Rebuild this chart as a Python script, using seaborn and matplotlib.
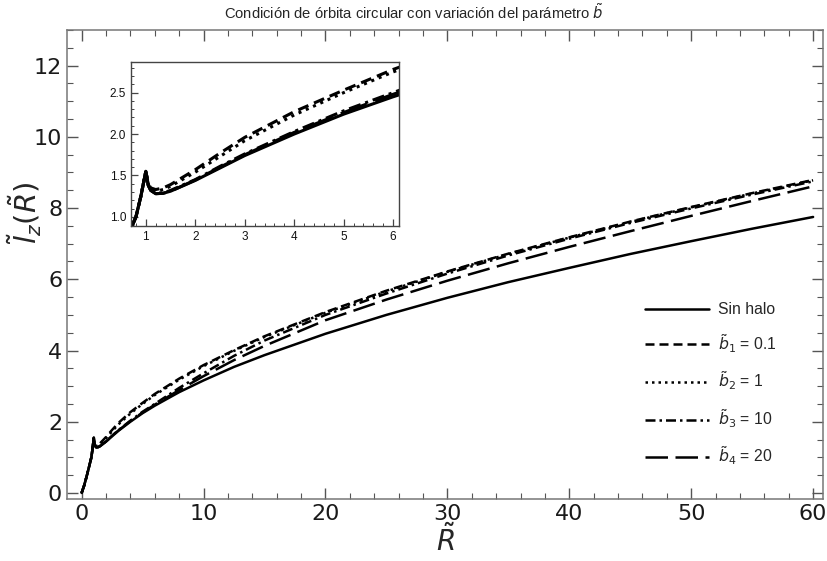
import numpy as np
import pandas as pd
import matplotlib
matplotlib.use("Agg")
import matplotlib.pyplot as plt
import seaborn as sns
from matplotlib.ticker import MultipleLocator

# ---- data ----
R = [0, 0.2, 0.4, 0.6, 0.8, 0.9, 1.0, 1.05, 1.1, 1.2, 1.35, 1.5, 2, 2.5, 3, 4, 5, 6,
     8, 10, 12.5, 15, 20, 25, 30, 35, 40, 45, 50, 55, 60]

sin_halo = [0, 0.2, 0.45, 0.72, 1.0, 1.25, 1.55, 1.38, 1.32, 1.28, 1.285, 1.31, 1.44, 1.59,
            1.74, 2.0, 2.24, 2.45, 2.83, 3.16, 3.54, 3.87, 4.47, 5.0, 5.48, 5.92, 6.32,
            6.71, 7.07, 7.42, 7.75]
b1 = [0, 0.2, 0.45, 0.72, 1.0, 1.25, 1.55, 1.40, 1.35, 1.33, 1.35, 1.39, 1.57, 1.77, 1.96,
      2.27, 2.53, 2.78, 3.21, 3.59, 4.01, 4.40, 5.08, 5.68, 6.22, 6.72, 7.18, 7.62, 8.03,
      8.42, 8.79]
b2 = [0, 0.2, 0.45, 0.72, 1.0, 1.25, 1.55, 1.39, 1.34, 1.31, 1.33, 1.37, 1.54, 1.73, 1.92,
      2.23, 2.50, 2.75, 3.18, 3.56, 3.99, 4.38, 5.06, 5.66, 6.21, 6.71, 7.17, 7.61, 8.02,
      8.41, 8.78]
b3 = [0, 0.2, 0.45, 0.72, 1.0, 1.25, 1.55, 1.38, 1.32, 1.285, 1.29, 1.32, 1.45, 1.61, 1.76,
      2.03, 2.28, 2.50, 2.95, 3.36, 3.85, 4.28, 5.00, 5.60, 6.16, 6.67, 7.14, 7.58, 7.99,
      8.38, 8.75]
b4 = [0, 0.2, 0.45, 0.72, 1.0, 1.25, 1.55, 1.38, 1.32, 1.28, 1.285, 1.31, 1.445, 1.60, 1.75,
      2.02, 2.26, 2.48, 2.89, 3.28, 3.73, 4.13, 4.85, 5.43, 5.96, 6.45, 6.91, 7.35, 7.78,
      8.20, 8.61]

labels = ["Sin halo", r"$\tilde{b}_1$ = 0.1", r"$\tilde{b}_2$ = 1",
          r"$\tilde{b}_3$ = 10", r"$\tilde{b}_4$ = 20"]
series = [sin_halo, b1, b2, b3, b4]

title = r"Condición de órbita circular con variación del parámetro $\tilde{b}$"
xlabel = r"$\tilde{R}$"
ylabel = r"$\tilde{l}_z(\tilde{R})$"

styles = ["-", (0, (3.6, 2.0)), (0, (1, 1.6)), (0, (4, 1.6, 1, 1.6)), (0, (9, 3))]

sns.set_theme(style="ticks")
plt.rcParams["font.family"] = ["DejaVu Sans"]

fig = plt.figure(figsize=(8.27, 5.61), dpi=100)
ax = fig.add_axes([0.081, 0.1105, 0.914, 0.836])

for y, lab, ls in zip(series, labels, styles):
    sns.lineplot(x=R, y=y, ax=ax, color="black", linewidth=1.8, linestyle=ls,
                 label=lab, estimator=None)

ax.set_xlim(-1.2, 60.8)
ax.set_ylim(-0.17, 13.0)
ax.xaxis.set_major_locator(MultipleLocator(10))
ax.xaxis.set_minor_locator(MultipleLocator(2))
ax.yaxis.set_major_locator(MultipleLocator(2))
ax.yaxis.set_minor_locator(MultipleLocator(0.5))
ax.tick_params(which="both", direction="in", top=True, right=True, colors="#555555",
               labelcolor="#1a1a1a", labelsize=16)
ax.tick_params(which="major", length=8, width=1)
ax.tick_params(which="minor", length=4.5, width=0.8)
for s in ax.spines.values():
    s.set_color("#777777")
    s.set_linewidth(1.1)
ax.set_xlabel(xlabel, fontsize=20, labelpad=0)
ax.set_ylabel(ylabel, fontsize=21)
ax.yaxis.set_label_coords(-0.031, 0.61)

leg = ax.legend(loc="upper left", bbox_to_anchor=(645 / 827, 1 - 302 / 561),
                bbox_transform=fig.transFigure, frameon=False, fontsize=11.3,
                handlelength=4.1, handletextpad=0.55, labelspacing=0.95,
                borderpad=0, borderaxespad=0)
for t in leg.get_texts():
    t.set_family(["Liberation Sans", "DejaVu Sans"])

fig.text(0.5, 1 - 13 / 561, title, ha="center", va="center", fontsize=10.6,
         family=["Liberation Sans Narrow", "Liberation Sans", "DejaVu Sans"])

# ---- inset ----
axi = fig.add_axes([131 / 827, 1 - 226 / 561, (399 - 131) / 827, (226 - 62) / 561])
for y, ls in zip(series, styles):
    sns.lineplot(x=R, y=y, ax=axi, color="black", linewidth=2.2, linestyle=ls,
                 estimator=None, legend=False)
axi.set_xlim(0.7, 6.12)
axi.set_ylim(0.89, 2.87)
axi.xaxis.set_major_locator(MultipleLocator(1))
axi.xaxis.set_minor_locator(MultipleLocator(0.2))
axi.yaxis.set_major_locator(MultipleLocator(0.5))
axi.yaxis.set_minor_locator(MultipleLocator(0.1))
axi.yaxis.set_major_formatter(matplotlib.ticker.FormatStrFormatter("%.1f"))
axi.tick_params(which="both", direction="in", colors="#444444", labelcolor="#111111",
                labelsize=8.5)
axi.tick_params(which="major", length=5, width=0.9)
axi.tick_params(which="minor", length=2.5, width=0.7)
for t in axi.get_xticklabels() + axi.get_yticklabels():
    t.set_family(["Liberation Sans", "DejaVu Sans"])
for s in axi.spines.values():
    s.set_color("#444444")
    s.set_linewidth(1.0)
axi.set_xlabel("")
axi.set_ylabel("")

fig.savefig("out.png", dpi=100)
